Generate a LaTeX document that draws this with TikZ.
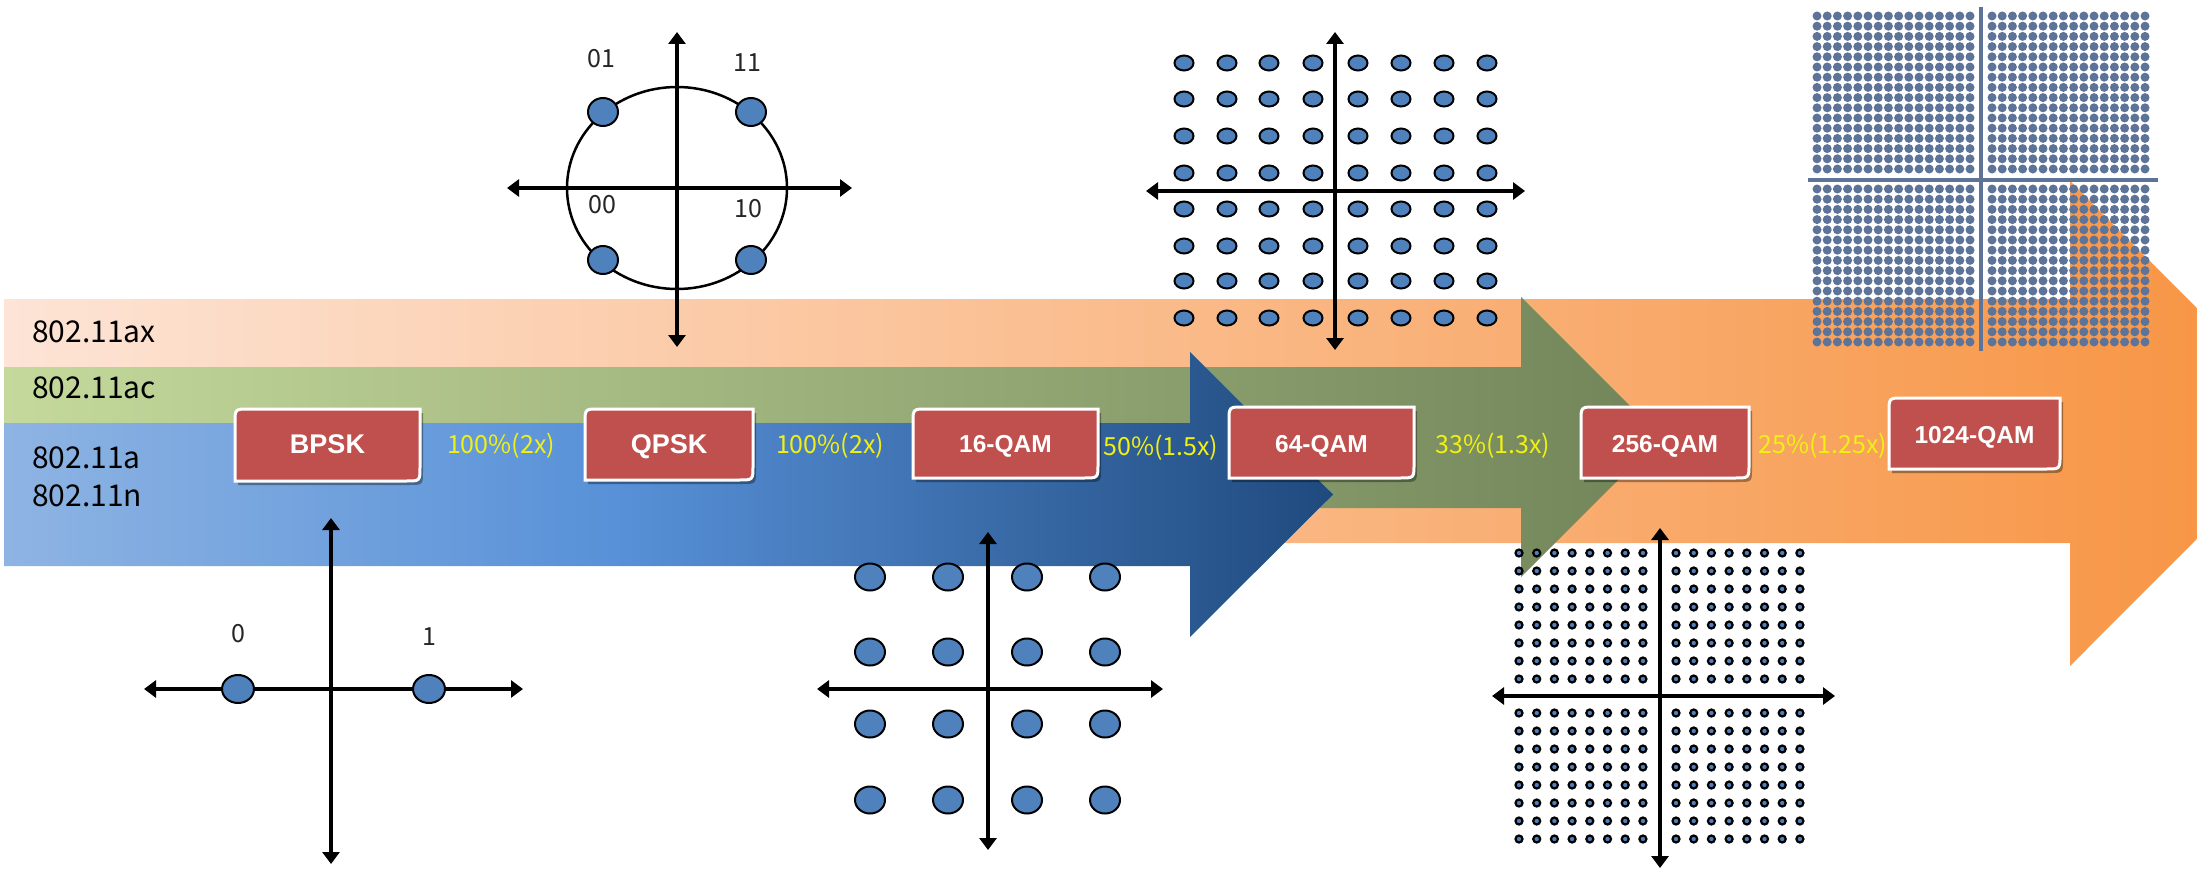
\documentclass[tikz,border=0pt]{standalone}
\usepackage{fontspec}
\setmainfont{Noto Sans CJK JP}
\newfontfamily\boxfont{Liberation Sans}
\usetikzlibrary{arrows.meta,shadows,calc}

\definecolor{boxred}{HTML}{C0504D}
\definecolor{dotblue}{HTML}{4F81BD}
\definecolor{slate}{RGB}{93,115,152}
\definecolor{pctyellow}{RGB}{240,240,20}
\definecolor{oraL}{HTML}{FDE4D6}
\definecolor{oraR}{HTML}{F7923F}
\definecolor{grnL}{HTML}{C4D99B}
\definecolor{grnR}{HTML}{72855A}
\definecolor{bluA}{HTML}{8EB4E3}
\definecolor{bluB}{HTML}{5891D8}
\definecolor{bluC}{HTML}{1F4A7E}
\definecolor{labgray}{HTML}{262626}

\pgfdeclarehorizontalshading{blueband}{100bp}{color(0bp)=(bluA); color(25bp)=(bluA); color(48bp)=(bluB); color(75bp)=(bluC); color(100bp)=(bluC)}

\tikzset{
 boxshape/.style={fill=boxred, draw=white, line width=3pt, drop shadow={shadow xshift=3pt, shadow yshift=-4pt, opacity=0.35, fill=black}},
 boxlabel/.style={anchor=base, text=white, font=\boxfont\bfseries\fontsize{24.5}{28}\selectfont, inner sep=0pt},
 pct/.style={anchor=base, text=pctyellow, font=\fontsize{25}{28}\selectfont, inner sep=0pt},
 bandlabel/.style={anchor=base west, text=black, font=\fontsize{30}{34}\selectfont, inner sep=0pt},
 conlabel/.style={anchor=base, text=labgray, font=\fontsize{25}{30}\selectfont, inner sep=0pt},
 axisline/.style={draw=black, line width=3.2pt, {Triangle[width=17pt,length=12pt]}-{Triangle[width=17pt,length=12pt]}},
 cdot/.style={fill=dotblue, draw=black, line width=2pt},
 sdot/.style={fill=dotblue, draw=black, line width=2.2pt},
 kdot/.style={fill=slate},
 kaxis/.style={draw=slate, line width=4pt},
}

\newcommand\modbox[7]{%
 \path[boxshape] (#2,#3+14) .. controls (#2,#3) .. (#2+14,#3) -- (#4,#3) -- (#4,#5-14) .. controls (#4,#5) .. (#4-14,#5) -- (#2,#5) -- cycle;
 \node[boxlabel] (#1) at ({(#2+#4)/2},#6) {#7};
}

\begin{document}
\begin{tikzpicture}[x=1pt,y=-1pt]
\useasboundingbox (0,0) rectangle (2197,872);
\clip (0,0) rectangle (2197,872);

% ---- band arrows ----
\shade[left color=oraL, right color=oraR] (4,299) -- (2070,299) -- (2070,181) -- (2312,423.5) -- (2070,666) -- (2070,543) -- (4,543) -- cycle;
\shade[left color=grnL, right color=grnR] (4,367) -- (1521,367) -- (1521,297) -- (1661,437) -- (1521,577) -- (1521,508) -- (4,508) -- cycle;
\shade[shading=blueband] (4,423) -- (1190,423) -- (1190,352) -- (1333,494.5) -- (1190,637) -- (1190,566) -- (4,566) -- cycle;

\node[bandlabel] (lax) at (32,342) {802.11ax};
\node[bandlabel] (lac) at (32,398) {802.11ac};
\node[bandlabel] (la) at (32,468) {802.11a};
\node[bandlabel] (ln) at (32,506) {802.11n};

% ---- QPSK constellation ----
\draw[line width=2.5pt] (677,188) ellipse [x radius=110, y radius=101];
\coordinate (qL) at (507,188); \coordinate (qR) at (852,188);
\coordinate (qT) at (677,32); \coordinate (qB) at (677,347);
\draw[axisline] (qL) -- (qR);
\draw[axisline] (qT) -- (qB);
\foreach \x/\y in {603/112,751/112,603/260,751/260}
  \draw[cdot] (\x,\y) ellipse [x radius=15, y radius=14];
\node[conlabel] (l01) at (601,68) {01};
\node[conlabel] (l11) at (747,72) {11};
\node[conlabel] (l00) at (602,213) {00};
\node[conlabel] (l10) at (748,217) {10};

% ---- 64-QAM constellation ----
\coordinate (sL) at (1146,191); \coordinate (sR) at (1525,191);
\coordinate (sT) at (1335,32); \coordinate (sB) at (1335,350);
\foreach \x in {1184,1227,1269,1313,1358,1401,1444,1487}
  \foreach \y in {63,99,136,173,209,246,281,318}
    \draw[cdot] (\x,\y) ellipse [x radius=9.5, y radius=7.5];
\draw[axisline] (sL) -- (sR);
\draw[axisline] (sT) -- (sB);

% ---- 1024-QAM constellation ----
\foreach \i in {0,...,15}
  \foreach \j in {0,...,15} {
    \fill[kdot] (1817+10.2*\i,16+10.2*\j) circle [radius=4.5];
    \fill[kdot] (1992+10.2*\i,16+10.2*\j) circle [radius=4.5];
    \fill[kdot] (1817+10.2*\i,189+10.2*\j) circle [radius=4.5];
    \fill[kdot] (1992+10.2*\i,189+10.2*\j) circle [radius=4.5];
  }
\coordinate (kL) at (1808,180); \coordinate (kR) at (2158,180);
\coordinate (kT) at (1981,7); \coordinate (kB) at (1981,351);
\draw[kaxis] (kL) -- (kR);
\draw[kaxis] (kT) -- (kB);

% ---- 256-QAM constellation ----
\foreach \i in {0,...,7}
  \foreach \j in {0,...,7} {
    \draw[sdot] (1519+17.7*\i,553+18*\j) circle [radius=3.5];
    \draw[sdot] (1676+17.7*\i,553+18*\j) circle [radius=3.5];
    \draw[sdot] (1519+17.7*\i,713+18*\j) circle [radius=3.5];
    \draw[sdot] (1676+17.7*\i,713+18*\j) circle [radius=3.5];
  }
\coordinate (tL) at (1492,696); \coordinate (tR) at (1835,696);
\coordinate (tT) at (1660,528); \coordinate (tB) at (1660,868);
\draw[axisline] (tL) -- (tR);
\draw[axisline] (tT) -- (tB);

% ---- BPSK constellation ----
\coordinate (bL) at (144,689); \coordinate (bR) at (523,689);
\coordinate (bT) at (331,518); \coordinate (bB) at (331,864);
\draw[axisline] (bL) -- (bR);
\draw[axisline] (bT) -- (bB);
\draw[cdot] (238,689) ellipse [x radius=16, y radius=14];
\draw[cdot] (429,689) ellipse [x radius=16, y radius=14];
\node[conlabel] (l0) at (238,642) {0};
\node[conlabel] (l1) at (429,645) {1};

% ---- 16-QAM constellation ----
\coordinate (fL) at (817,689); \coordinate (fR) at (1163,689);
\coordinate (fT) at (988,532); \coordinate (fB) at (988,850);
\draw[axisline] (fL) -- (fR);
\draw[axisline] (fT) -- (fB);
\foreach \x in {870,948,1027,1105}
  \foreach \y in {577,652,724,800}
    \draw[cdot] (\x,\y) ellipse [x radius=15, y radius=13.5];

% ---- modulation boxes ----
\modbox{bpsk}{235}{409}{420}{481}{453}{\fontsize{27}{30}\selectfont BPSK}
\modbox{qpsk}{585}{409}{753}{480}{453}{\fontsize{27}{30}\selectfont QPSK}
\modbox{q16}{913}{409}{1098}{478}{452}{16-QAM}
\modbox{q64}{1229}{407}{1414}{478}{452}{64-QAM}
\modbox{q256}{1581}{407}{1749}{478}{452}{256-QAM}
\modbox{q1024}{1889}{398}{2060}{469}{443}{1024-QAM}

% ---- rate gains ----
\node[pct] (p1) at (501,453) {100\%(2x)};
\node[pct] (p2) at (830,453) {100\%(2x)};
\node[pct] (p3) at (1161,455) {50\%(1.5x)};
\node[pct] (p4) at (1493,453) {33\%(1.3x)};
\node[pct] (p5) at (1823,453) {25\%(1.25x)};
\end{tikzpicture}
\end{document}
